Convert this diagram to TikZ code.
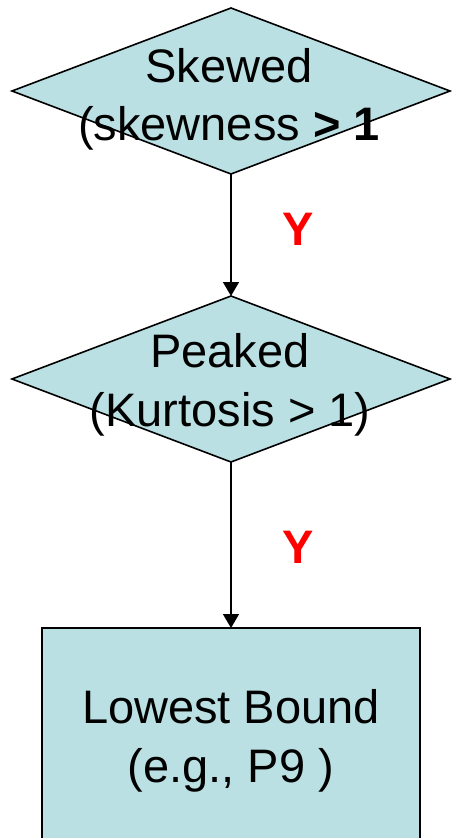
\documentclass[tikz,border=0pt]{standalone}
\usepackage{fontspec}
\setmainfont{Liberation Sans}
\usetikzlibrary{shapes.geometric,arrows.meta}
\definecolor{boxfill}{HTML}{BBE0E3}
\tikzset{
  decision/.style={diamond,draw=black,fill=boxfill,line width=1.6pt,inner sep=0pt,outer sep=0pt,minimum width=438pt,minimum height=166pt},
  endbox/.style={rectangle,draw=black,fill=boxfill,line width=1.6pt,inner sep=0pt,outer sep=0pt,minimum width=378pt,minimum height=260pt},
  txt/.style={anchor=base,inner sep=0pt,font=\fontsize{47}{58}\selectfont},
  ylab/.style={inner sep=0pt,text=red,font=\fontsize{47}{58}\selectfont\bfseries},
  flow/.style={line width=1.6pt,-{Triangle[width=16pt,length=14pt]}}
}
\begin{document}
\begin{tikzpicture}[x=1pt,y=-1pt]
\useasboundingbox (0,0) rectangle (452,838);
\clip (0,0) rectangle (452,838);
\node[decision] (d1) at (231,91) {};
\node[decision] (d2) at (231,379) {};
\node[endbox] (r) at (231,758) {};
\node[txt] (t1a) at (229,82) {Skewed};
\node[txt] (t1b) at (229,140) {(skewness \textbf{> 1}};
\node[txt] (t2a) at (230,367) {Peaked};
\node[txt] (t2b) at (230,426) {(Kurtosis > 1)};
\node[txt] (t3a) at (231,723) {Lowest Bound};
\node[txt] (t3b) at (231,782) {(e.g., P9 )};
\draw[flow] (d1.south) -- (d2.north);
\draw[flow] (d2.south) -- (r.north);
\node[ylab] (y1) at (298,229) {Y};
\node[ylab] (y2) at (298,547) {Y};
\end{tikzpicture}
\end{document}
